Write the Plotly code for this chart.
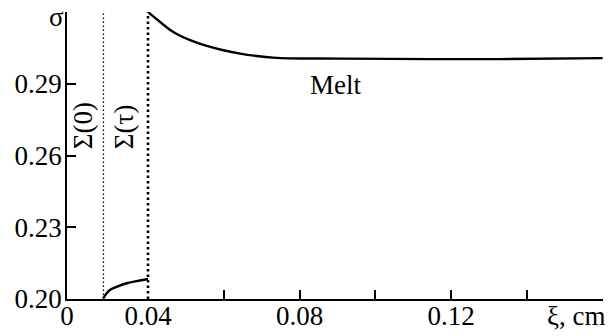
import plotly.graph_objects as go

# Data
solid_xi = [0.0179, 0.0196, 0.0212, 0.0245, 0.0295, 0.0344, 0.0400]
solid_sigma = [0.2003, 0.2024, 0.2038, 0.2051, 0.2066, 0.2075, 0.2084]

melt_xi = [0.0400, 0.0432, 0.0467, 0.0511, 0.0555, 0.0599, 0.0643, 0.0687,
           0.0730, 0.0774, 0.0906, 0.1144, 0.1328, 0.1600]
melt_sigma = [0.3201, 0.3159, 0.3117, 0.3083, 0.3059, 0.3041, 0.3027, 0.3017,
              0.3010, 0.3007, 0.3006, 0.3004, 0.3004, 0.3008]

sigma0_xi = 0.018
sigmatau_xi = 0.040

x1_ticks = [0.0]
x1_text = ["0"]
x2_ticks = [0.04, 0.06, 0.08, 0.10, 0.12, 0.14, 0.16]
x2_text = ["0.04", "", "0.08", "", "0.12", "", ""]
y_ticks = [0.20, 0.23, 0.26, 0.29, 0.32]
y_text = ["0.20", "0.23", "0.26", "0.29", ""]
y_title = "σ"

FONT = "Liberation Serif"
FS = 27
split = 81 / 536
X2_RANGE = [0.04, 0.1601]
Y_RANGE = [0.20, 0.3201]

fig = go.Figure()
fig.add_trace(go.Scatter(x=solid_xi, y=solid_sigma, mode="lines", xaxis="x", yaxis="y",
                         line=dict(color="black", width=2.4), line_shape="spline",
                         showlegend=False, hoverinfo="skip"))
fig.add_trace(go.Scatter(x=melt_xi, y=melt_sigma, mode="lines", xaxis="x2", yaxis="y",
                         line=dict(color="black", width=2.4), line_shape="spline",
                         showlegend=False, hoverinfo="skip"))

fig.add_shape(type="line", xref="x", yref="y", x0=sigma0_xi, x1=sigma0_xi, y0=0.20, y1=0.32,
              line=dict(color="black", width=1.3, dash="1.5px,2.5px"))
# the Σ(τ) boundary sits on the edge between the two x sub-axes; place it in paper units
tau_paper = split + (sigmatau_xi - X2_RANGE[0]) / (X2_RANGE[1] - X2_RANGE[0]) * (1 - split)
fig.add_shape(type="line", xref="paper", yref="y", x0=tau_paper, x1=tau_paper, y0=0.20, y1=0.32,
              line=dict(color="black", width=2.6, dash="2.5px,3px"))

tick_font = dict(family=FONT, size=FS, color="black")


def axis_style(**kw):
    d = dict(showgrid=False, zeroline=False, showline=True, linecolor="black",
             linewidth=1.5, ticks="inside", ticklen=9, tickwidth=1.5, tickcolor="black",
             tickfont=tick_font, tickmode="array", automargin=False,
             ticklabeloverflow="allow")
    d.update(kw)
    return d


fig.update_layout(
    width=614, height=336,
    margin=dict(l=67, r=11, t=12, b=37, autoexpand=False),
    paper_bgcolor="white", plot_bgcolor="white",
    font=dict(family=FONT, size=FS, color="black"),
)
fig.update_layout(
    xaxis=axis_style(domain=[0, split], range=[0, 0.04], tickvals=x1_ticks, ticktext=x1_text,
                     anchor="y", ticklabelstandoff=-8),
    xaxis2=axis_style(domain=[split, 1], range=X2_RANGE, tickvals=x2_ticks,
                      ticktext=x2_text, anchor="y", ticklabelstandoff=-8),
    yaxis=axis_style(range=Y_RANGE, tickvals=y_ticks, ticktext=y_text, anchor="x",
                     ticklabelstandoff=-2),
)

fig.add_annotation(text=y_title, xref="paper", yref="paper", x=0, y=1 + 12 / 287,
                   xanchor="right", yanchor="top", xshift=-1, showarrow=False,
                   font=dict(family=FONT, size=FS, color="black"))
fig.add_annotation(text="Melt", xref="x2", yref="y", x=0.0896, y=0.2895, showarrow=False,
                   font=dict(family=FONT, size=FS, color="black"))
fig.add_annotation(text="Σ(0)", xref="x", yref="y", x=0.0079, y=0.2723, textangle=-90,
                   showarrow=False, font=dict(family=FONT, size=FS, color="black"))
fig.add_annotation(text="Σ(τ)", xref="x", yref="y", x=0.0281, y=0.2723, textangle=-90,
                   showarrow=False, font=dict(family=FONT, size=FS, color="black"))
fig.add_annotation(text="ξ, cm", xref="paper", yref="paper", x=0.951, y=-0.059,
                   xanchor="center", yanchor="middle", showarrow=False,
                   font=dict(family=FONT, size=FS, color="black"))

fig.write_html("out.html")
